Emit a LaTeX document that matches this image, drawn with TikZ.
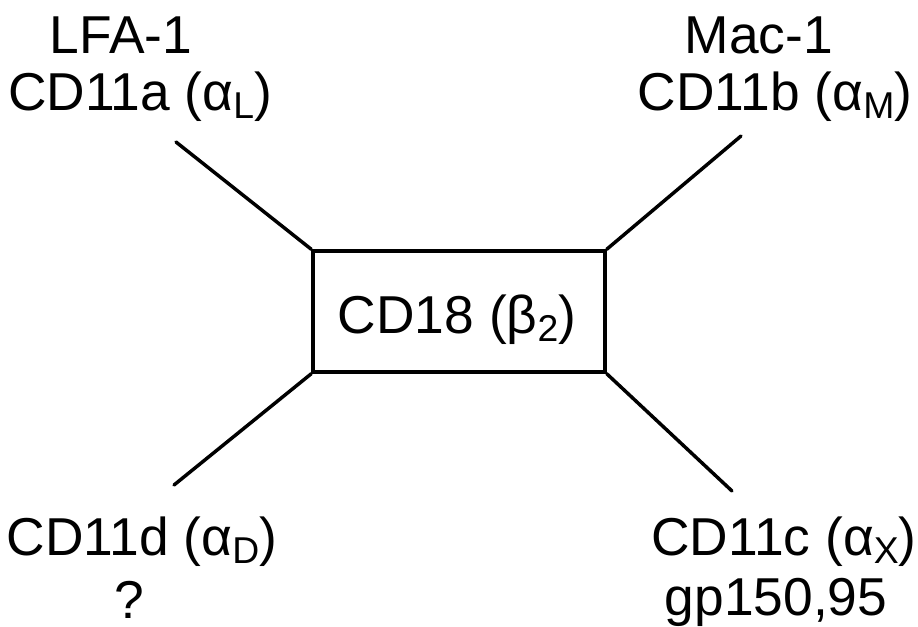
\documentclass[tikz,border=0pt]{standalone}
\usepackage{fontspec}
\setmainfont{Liberation Sans}
\newcommand{\sbs}[1]{\raisebox{-6pt}{\fontsize{28}{28}\selectfont #1}}
\begin{document}
\begin{tikzpicture}[x=0.75pt,y=-0.75pt,
  lbl/.style={anchor=base,inner sep=0pt,font=\fontsize{40}{48}\selectfont},
  conn/.style={line width=2.6pt,line cap=round}]
\useasboundingbox (0,0) rectangle (918,626);
\node[draw,line width=2.6pt,minimum width=292*0.75pt,minimum height=121*0.75pt,inner sep=0pt] (box) at (459,311.5) {};
\node[lbl] (cd18) at (457,333) {CD18 (β\sbs{2})};
\coordinate (tl) at (176,142);
\coordinate (tr) at (741,136);
\coordinate (bl) at (174,485);
\coordinate (br) at (732,491);
\draw[conn] (box.north west) -- (tl);
\draw[conn] (box.north east) -- (tr);
\draw[conn] (box.south west) -- (bl);
\draw[conn] (box.south east) -- (br);
\node[lbl] (lfa) at (121,53) {LFA-1};
\node[lbl] (cd11a) at (140,110) {CD11a (α\sbs{L})};
\node[lbl] (mac) at (759,53) {Mac-1};
\node[lbl] (cd11b) at (775,110) {CD11b (α\sbs{M})};
\node[lbl] (cd11d) at (142,555) {CD11d (α\sbs{D})};
\node[lbl] (q) at (129,618) {?};
\node[lbl] (cd11c) at (784,555) {CD11c (α\sbs{X})};
\node[lbl] (gp) at (776,615) {gp150,95};
\end{tikzpicture}
\end{document}
